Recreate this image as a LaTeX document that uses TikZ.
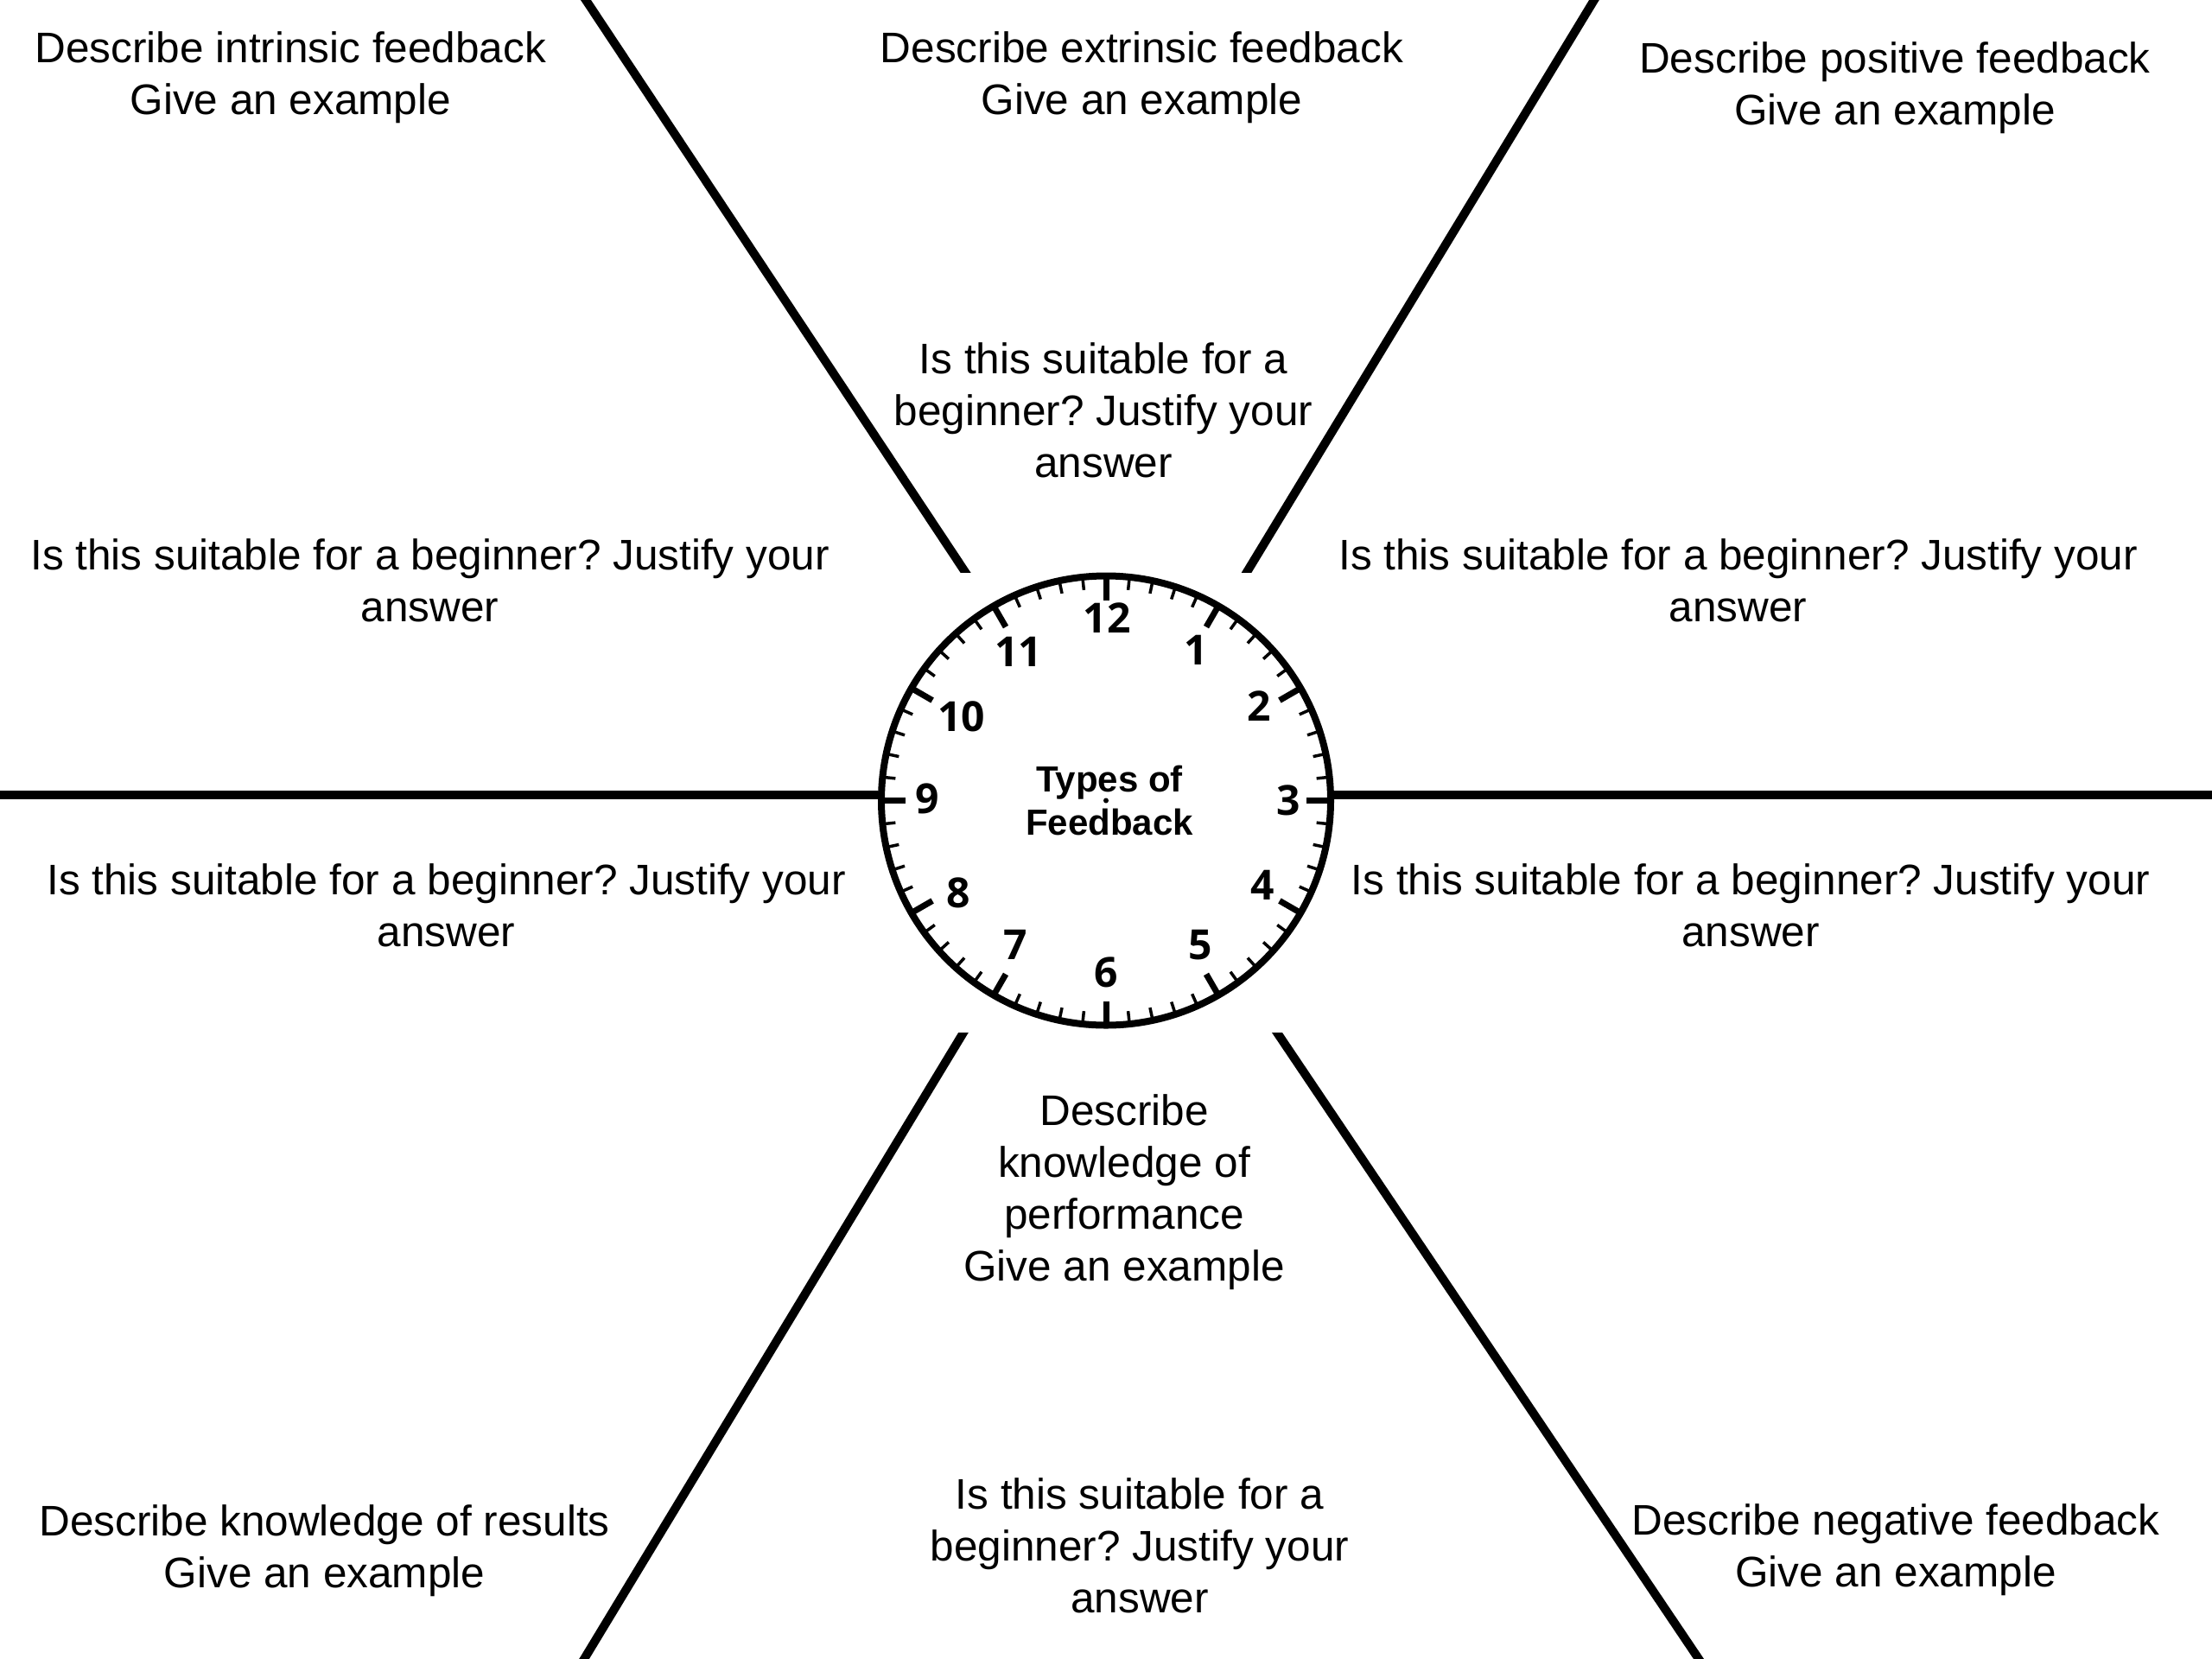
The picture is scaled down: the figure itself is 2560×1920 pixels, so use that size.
\documentclass[tikz,border=0pt]{standalone}
\usepackage{fontspec}
\setmainfont{Liberation Sans}
\newfontfamily\digitfont{Open Sans}
\frenchspacing
\begin{document}
\begin{tikzpicture}[x=1pt,y=-1pt,
  spoke/.style={line width=10pt, line cap=butt},
  txt/.style={font=\fontsize{49.5}{60}\selectfont, align=center, anchor=base, inner sep=0pt},
  dig/.style={font=\digitfont\bfseries\fontsize{48}{48}\selectfont, inner sep=0pt, anchor=center},
  majortick/.style={line width=7pt},
  minortick/.style={line width=3.5pt}]
\useasboundingbox (0,0) rectangle (2560,1920);
\fill[white] (0,0) rectangle (2560,1920);

% clock
\node[circle, draw, line width=8pt, minimum size=520pt, inner sep=0pt] (clock) at (1280,926.5) {};
\foreach \i in {0,...,59}{
  \pgfmathtruncatemacro\m{mod(\i,5)}
  \ifnum\m=0
    \draw[majortick] ([shift={(6*\i:258)}]clock.center) -- ([shift={(6*\i:232)}]clock.center);
  \else
    \draw[minortick] ([shift={(6*\i:258)}]clock.center) -- ([shift={(6*\i:245)}]clock.center);
  \fi
}
\fill (clock.center) circle (3);
\node[dig] (n12) at (1281,715) {12};
\node[dig] (n1) at (1384,752.5) {1};
\node[dig] (n2) at (1457,817.5) {2};
\node[dig] (n3) at (1491,926) {3};
\node[dig] (n4) at (1461,1024) {4};
\node[dig] (n5) at (1389,1093.6) {5};
\node[dig] (n6) at (1280,1125.7) {6};
\node[dig] (n7) at (1175,1093.6) {7};
\node[dig] (n8) at (1109,1033) {8};
\node[dig] (n9) at (1073,924) {9};
\node[dig] (n10) at (1112.5,829) {10};
\node[dig] (n11) at (1178.6,754) {11};
\node[font=\bfseries\fontsize{42}{50}\selectfont, align=center, anchor=base, inner sep=0pt] (title) at (1284,966.8) {Types of\\Feedback};

% spokes
\coordinate (hl) at (0,919.5);
\coordinate (hr) at (2560,919.5);
\draw[spoke] (hl) -- (hl -| clock.west);
\draw[spoke] (hr) -- (hr -| clock.east);
\coordinate (ulA) at (664.7,-20);
\coordinate (ulB) at (1130.3,682);
\coordinate (urA) at (1857.1,-20);
\coordinate (urB) at (1430.9,682);
\coordinate (llA) at (1127.1,1175);
\coordinate (llB) at (663.9,1940);
\coordinate (lrA) at (1464.5,1175);
\coordinate (lrB) at (1979.5,1940);
\begin{scope}
  \clip (0,0) rectangle (2560,662);
  \draw[spoke] (ulA) -- (ulB);
  \draw[spoke] (urA) -- (urB);
\end{scope}
\begin{scope}
  \clip (0,1195) rectangle (2560,1920);
  \draw[spoke] (llA) -- (llB);
  \draw[spoke] (lrA) -- (lrB);
\end{scope}

% texts (anchor = baseline of last line)
\node[txt] (t1) at (336.3,132.5) {Describe intrinsic feedback\\Give an example};
\node[txt] (t2) at (1321.4,132.7) {Describe extrinsic feedback\\Give an example};
\node[txt] (t3) at (2193,144) {Describe positive feedback\\Give an example};
\node[txt] (t4) at (1277,552) {Is this suitable for a\\beginner? Justify your\\answer};
\node[txt] (t5) at (497.6,719.5) {Is this suitable for a beginner? Justify your\\answer};
\node[txt] (t6) at (2011.5,719.5) {Is this suitable for a beginner? Justify your\\answer};
\node[txt] (t7) at (516.6,1095.5) {Is this suitable for a beginner? Justify your\\answer};
\node[txt] (t8) at (2026,1095.5) {Is this suitable for a beginner? Justify your\\answer};
\node[txt] (t9) at (1301,1482) {Describe\\knowledge of\\performance\\Give an example};
\node[txt] (t10) at (375.5,1837) {Describe knowledge of results\\Give an example};
\node[txt] (t11) at (1319,1866) {Is this suitable for a\\beginner? Justify your\\answer};
\node[txt] (t12) at (2194,1836) {Describe negative feedback\\Give an example};
\end{tikzpicture}
\end{document}
